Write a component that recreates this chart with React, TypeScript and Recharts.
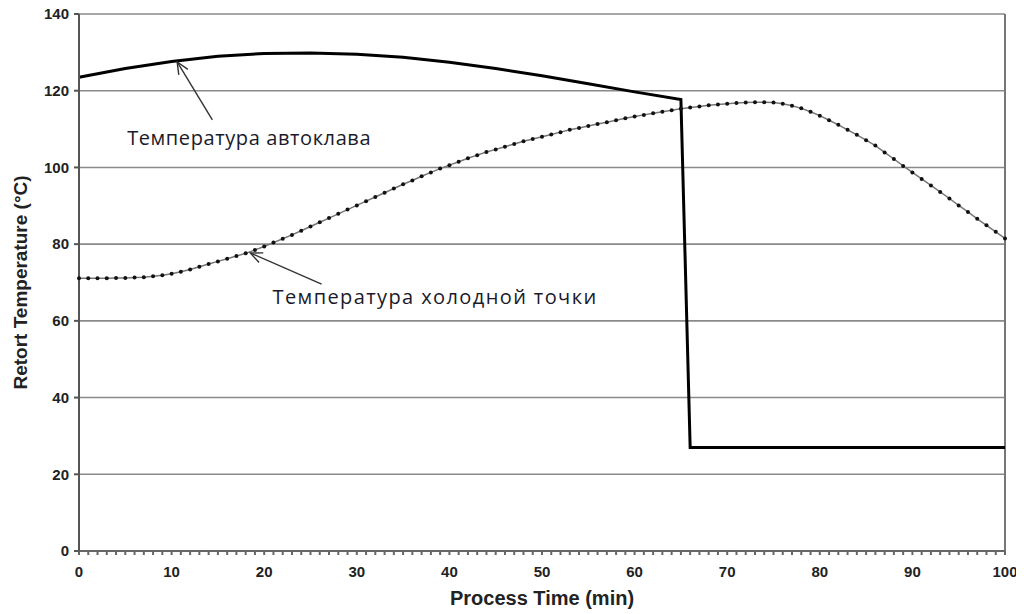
import React from "react";
import {
  LineChart,
  Line,
  XAxis,
  YAxis,
  CartesianGrid,
  ReferenceLine,
  ReferenceDot,
} from "recharts";

// retort temperature, read every 5 min plus the cool-down step
const retortTimes = [0, 5, 10, 15, 20, 25, 30, 35, 40, 45, 50, 55, 60, 65, 66, 100];
const retortTemps = [
  123.5, 125.8, 127.6, 129.0, 129.7, 129.8, 129.5, 128.7, 127.4, 125.8, 123.9, 121.8,
  119.7, 117.7, 27, 27,
];

// cold spot temperature, one reading per minute (0..100)
const coldTemps = [
  71.1, 71.1, 71.1, 71.1, 71.2, 71.2, 71.3, 71.4, 71.6, 71.9,
  72.3, 72.8, 73.4, 74.1, 74.8, 75.5, 76.2, 76.9, 77.6, 78.5,
  79.4, 80.4, 81.4, 82.4, 83.5, 84.6, 85.7, 86.8, 87.9, 89.0,
  90.1, 91.2, 92.3, 93.4, 94.5, 95.6, 96.6, 97.7, 98.7, 99.7,
  100.6, 101.5, 102.4, 103.2, 104.0, 104.7, 105.4, 106.1, 106.8, 107.4,
  108.0, 108.6, 109.2, 109.8, 110.3, 110.8, 111.3, 111.8, 112.3, 112.8,
  113.3, 113.7, 114.1, 114.5, 114.9, 115.3, 115.6, 115.9, 116.2, 116.4,
  116.6, 116.8, 116.9, 117.0, 117.0, 116.9, 116.6, 116.1, 115.4, 114.5,
  113.5, 112.3, 111.1, 109.8, 108.5, 107.1, 105.7, 103.9, 102.2, 100.4,
  98.7, 97.0, 95.3, 93.6, 91.9, 90.1, 88.4, 86.6, 84.9, 83.2,
  81.5,
];

const yTicks = [0, 20, 40, 60, 80, 100, 120, 140];
const xMinorTicks = coldTemps.map((_, i) => i);

const retortData = retortTimes.map((t, i) => ({ t, temp: retortTemps[i] }));
const coldData = coldTemps.map((temp, t) => ({ t, temp }));

const tickFont = '"Liberation Sans Narrow", "Arial Narrow", "Liberation Sans", Arial, sans-serif';
const labelFont = '"Liberation Sans", Arial, sans-serif';
const noteFont = '"Open Sans", "Noto Sans", sans-serif';

function Arrow(props: any) {
  const { x1, y1, x2, y2 } = props;
  const ang = Math.atan2(y1 - y2, x1 - x2);
  const len = 13;
  const spread = 0.42;
  const a1x = x2 + len * Math.cos(ang + spread);
  const a1y = y2 + len * Math.sin(ang + spread);
  const a2x = x2 + len * Math.cos(ang - spread);
  const a2y = y2 + len * Math.sin(ang - spread);
  return (
    <g stroke="#333" strokeWidth={1.4} fill="none">
      <line x1={x1} y1={y1} x2={x2} y2={y2} />
      <polyline points={`${a1x},${a1y} ${x2},${y2} ${a2x},${a2y}`} />
    </g>
  );
}

const noteText = (text: string, spacing: number) => (p: any) => (
  <text
    x={p.cx}
    y={p.cy}
    fill="#1a1a2a"
    fontSize={20}
    letterSpacing={spacing}
    fontFamily={noteFont}
  >
    {text}
  </text>
);

export default function App() {
  return (
    <div style={{ position: "relative", left: -8, top: -8, width: 1024, height: 614 }}>
      <LineChart
        width={1024}
        height={614}
        margin={{ top: 14, right: 19, bottom: 3, left: 8 }}
        style={{ background: "#fff" }}
      >
        <CartesianGrid vertical={false} stroke="#8a8a8a" strokeWidth={1.6} />
        <XAxis
          type="number"
          dataKey="t"
          domain={[0, 100]}
          ticks={xMinorTicks}
          interval={0}
          tickFormatter={(v: number) => (v % 10 === 0 ? String(v) : "")}
          height={60}
          tickSize={4}
          tickMargin={11}
          stroke="#666"
          strokeWidth={2}
          tick={{ fill: "#222", fontSize: 15, fontWeight: "bold", fontFamily: tickFont }}
          label={{
            content: (p: any) => {
              const vb = p.viewBox;
              return (
                <text
                  x={vb.x + vb.width / 2}
                  y={vb.y + 54}
                  textAnchor="middle"
                  fill="#222"
                  fontSize={20}
                  fontWeight="bold"
                  fontFamily={labelFont}
                >
                  Process Time (min)
                </text>
              );
            },
          }}
        />
        <YAxis
          type="number"
          domain={[0, 140]}
          ticks={yTicks}
          interval={0}
          width={71}
          tickSize={5}
          tickMargin={5}
          stroke="#555"
          strokeWidth={2}
          tick={{ fill: "#222", fontSize: 15, fontWeight: "bold", fontFamily: tickFont }}
          label={{
            content: (p: any) => {
              const vb = p.viewBox;
              const cx = 20;
              const cy = vb.y + vb.height / 2;
              return (
                <text
                  x={cx}
                  y={cy}
                  transform={`rotate(-90, ${cx}, ${cy})`}
                  textAnchor="middle"
                  dominantBaseline="central"
                  fill="#222"
                  fontSize={19}
                  fontWeight="bold"
                  fontFamily={labelFont}
                >
                  Retort Temperature (°C)
                </text>
              );
            },
          }}
        />
        <ReferenceLine x={100} stroke="#777" strokeWidth={2} />
        <Line
          data={coldData}
          dataKey="temp"
          type="linear"
          stroke="#777"
          strokeWidth={1.5}
          dot={{ r: 2, fill: "#111", stroke: "none" }}
          isAnimationActive={false}
        />
        <Line
          data={retortData}
          dataKey="temp"
          type="linear"
          stroke="#000"
          strokeWidth={3}
          dot={false}
          isAnimationActive={false}
        />
        <ReferenceLine
          segment={[
            { x: 14.4, y: 112.4 },
            { x: 10.6, y: 127.5 },
          ]}
          shape={Arrow}
        />
        <ReferenceLine
          segment={[
            { x: 26.2, y: 69.6 },
            { x: 18.5, y: 77.7 },
          ]}
          shape={Arrow}
        />
        <ReferenceDot x={5.2} y={105.8} r={0} shape={noteText("Температура автоклава", 0.6)} />
        <ReferenceDot x={20.9} y={64.4} r={0} shape={noteText("Температура холодной точки", 1.4)} />
      </LineChart>
    </div>
  );
}
